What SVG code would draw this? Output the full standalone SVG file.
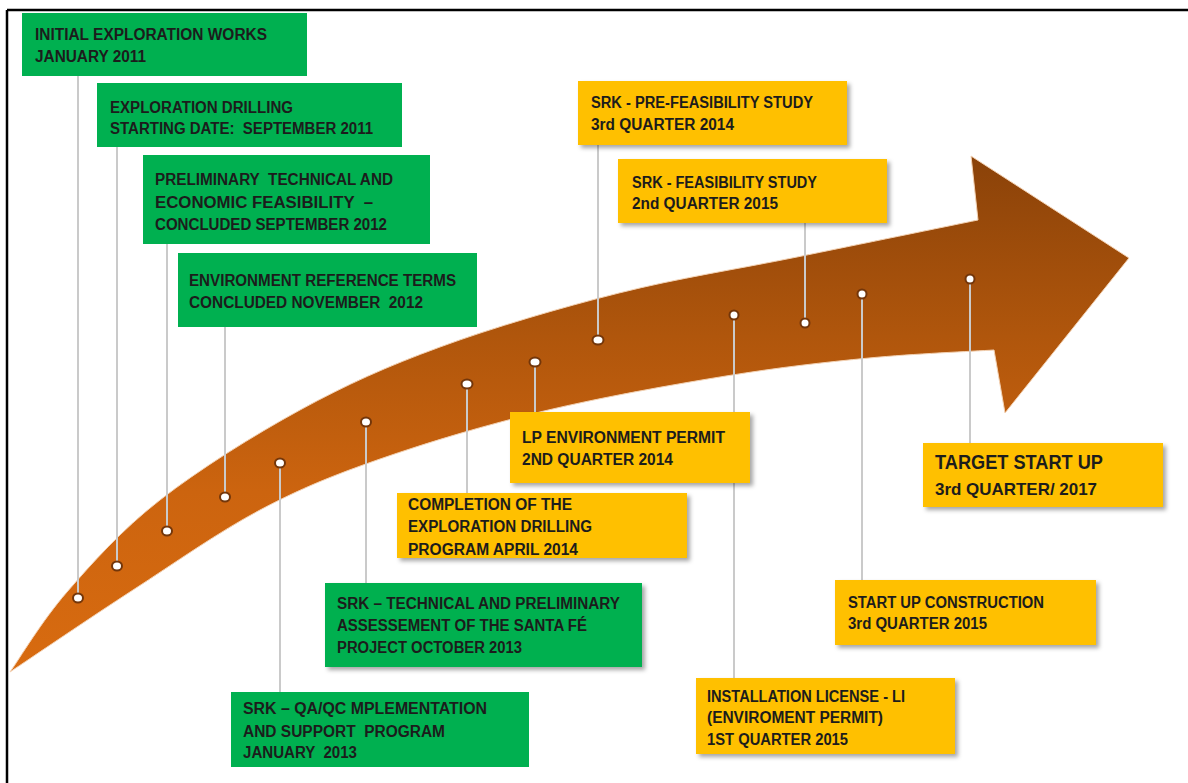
<svg xmlns="http://www.w3.org/2000/svg" width="1188" height="783" viewBox="0 0 1188 783">
<defs>
<linearGradient id="arrowGrad" gradientUnits="userSpaceOnUse" x1="0" y1="156" x2="0" y2="672">
<stop offset="0" stop-color="#8a4209"/>
<stop offset="0.35" stop-color="#b0560c"/>
<stop offset="0.65" stop-color="#cc640f"/>
<stop offset="1" stop-color="#d86b10"/>
</linearGradient>
<filter id="shadow" x="-5%" y="-10%" width="115%" height="130%">
<feDropShadow dx="3" dy="3" stdDeviation="2" flood-color="#000" flood-opacity="0.35"/>
</filter>
</defs>
<style>
.g{fill:#00b050}
.y{fill:#ffc000;filter:url(#shadow)}
.gs{filter:url(#shadow)}
text{font-family:"Liberation Sans",Arial,sans-serif;font-weight:bold;font-size:16px;fill:#1c1c1c;white-space:pre}
.big{font-size:20px}
.mid{font-size:17px}
.conn line{stroke:#cacaca;stroke-width:2}
.conn ellipse{fill:#fff;stroke:#73360a;stroke-width:2}
.frame{stroke:#000;stroke-width:2.5}
</style>
<rect width="1188" height="783" fill="#fff"/>
<line class="frame" x1="7" y1="10" x2="1188" y2="10"/>
<line class="frame" x1="7" y1="10" x2="7" y2="783"/>

<g id="timeline-arrow">
<path fill="url(#arrowGrad)" stroke="#f3d2b4" stroke-width="1" d="M 10,672 C 19.5,658.7 42,620.7 67,592 C 92,563.3 121.2,530.3 160,500 C 198.8,469.7 253.3,435.5 300,410 C 346.7,384.5 386.8,366.5 440,347 C 493.2,327.5 559.5,308 619,293 C 678.5,278 737.2,269.2 797,257 C 856.8,244.8 947.8,226.2 978,220 L 971,156 L 1129,258 L 1005,413 L 994,350 C 973.2,351.3 913.7,353.7 869,358 C 824.3,362.3 780.2,367.2 726,376 C 671.8,384.8 601.7,397.2 544,411 C 486.3,424.8 427.3,442.5 380,459 C 332.7,475.5 301.2,488.2 260,510 C 218.8,531.8 174.7,563 133,590 C 91.3,617 30.5,658.3 10,672 Z"/>
</g>

<g id="connectors" class="conn">
<line x1="78" y1="76" x2="78" y2="598"/>
<line x1="117" y1="147" x2="117" y2="566"/>
<line x1="167" y1="244" x2="167" y2="531"/>
<line x1="225" y1="327" x2="225" y2="497"/>
<line x1="280" y1="463" x2="280" y2="692"/>
<line x1="366" y1="422" x2="366" y2="583"/>
<line x1="467" y1="384" x2="467" y2="493"/>
<line x1="535" y1="362" x2="535" y2="412"/>
<line x1="598" y1="145" x2="598" y2="340"/>
<line x1="734" y1="315" x2="734" y2="678"/>
<line x1="805" y1="223" x2="805" y2="323"/>
<line x1="862" y1="294" x2="862" y2="580"/>
<line x1="970" y1="279" x2="970" y2="443"/>
<ellipse cx="78" cy="598" rx="5" ry="4.5"/>
<ellipse cx="117" cy="566" rx="5" ry="4.5"/>
<ellipse cx="167" cy="531" rx="5" ry="4.5"/>
<ellipse cx="225" cy="497" rx="5" ry="4.5"/>
<ellipse cx="280" cy="463" rx="5" ry="4.5"/>
<ellipse cx="366" cy="422" rx="5" ry="4.5"/>
<ellipse cx="467" cy="384" rx="5.5" ry="4.5"/>
<ellipse cx="535" cy="362" rx="5.5" ry="4.5"/>
<ellipse cx="598" cy="340" rx="5.5" ry="4.5"/>
<ellipse cx="734" cy="315" rx="4.5" ry="4.5"/>
<ellipse cx="805" cy="323" rx="4.5" ry="4.5"/>
<ellipse cx="862" cy="294" rx="4.5" ry="4.5"/>
<ellipse cx="970" cy="279" rx="4.5" ry="4.5"/>
</g>

<g id="node-initial-exploration">
<rect class="g" x="22" y="13" width="285" height="63"/>
<text x="35" y="40" textLength="232" lengthAdjust="spacingAndGlyphs">INITIAL EXPLORATION WORKS</text>
<text x="35" y="62" textLength="111" lengthAdjust="spacingAndGlyphs">JANUARY 2011</text>
</g>

<g id="node-exploration-drilling">
<rect class="g" x="97" y="83" width="305" height="64"/>
<text x="110" y="113" textLength="183" lengthAdjust="spacingAndGlyphs">EXPLORATION DRILLING</text>
<text x="110" y="134" textLength="263" lengthAdjust="spacingAndGlyphs">STARTING DATE:  SEPTEMBER 2011</text>
</g>

<g id="node-preliminary-feasibility">
<rect class="g" x="143" y="155" width="287" height="89"/>
<text x="155" y="185" textLength="238" lengthAdjust="spacingAndGlyphs">PRELIMINARY  TECHNICAL AND</text>
<text x="155" y="208" textLength="218" lengthAdjust="spacingAndGlyphs">ECONOMIC FEASIBILITY  –</text>
<text x="155" y="230" textLength="232" lengthAdjust="spacingAndGlyphs">CONCLUDED SEPTEMBER 2012</text>
</g>

<g id="node-environment-terms">
<rect class="g" x="178" y="253" width="299" height="74"/>
<text x="189" y="286" textLength="267" lengthAdjust="spacingAndGlyphs">ENVIRONMENT REFERENCE TERMS</text>
<text x="189" y="308" textLength="234" lengthAdjust="spacingAndGlyphs">CONCLUDED NOVEMBER  2012</text>
</g>

<g id="node-srk-technical">
<rect class="g gs" x="325" y="583" width="317" height="84"/>
<text x="337" y="609" textLength="283" lengthAdjust="spacingAndGlyphs">SRK – TECHNICAL AND PRELIMINARY</text>
<text x="337" y="631" textLength="250" lengthAdjust="spacingAndGlyphs">ASSESSEMENT OF THE SANTA FÉ</text>
<text x="337" y="653" textLength="185" lengthAdjust="spacingAndGlyphs">PROJECT OCTOBER 2013</text>
</g>

<g id="node-srk-qaqc">
<rect class="g" x="231" y="692" width="298" height="75"/>
<text x="243" y="714" textLength="244" lengthAdjust="spacingAndGlyphs">SRK – QA/QC MPLEMENTATION</text>
<text x="243" y="737" textLength="202" lengthAdjust="spacingAndGlyphs">AND SUPPORT  PROGRAM</text>
<text x="243" y="758" textLength="114" lengthAdjust="spacingAndGlyphs">JANUARY  2013</text>
</g>

<g id="node-pre-feasibility">
<rect class="y" x="578" y="81" width="269" height="64"/>
<text x="591" y="108" textLength="222" lengthAdjust="spacingAndGlyphs">SRK - PRE-FEASIBILITY STUDY</text>
<text x="591" y="130" textLength="143" lengthAdjust="spacingAndGlyphs">3rd QUARTER 2014</text>
</g>

<g id="node-feasibility">
<rect class="y" x="618" y="159" width="269" height="64"/>
<text x="632" y="188" textLength="185" lengthAdjust="spacingAndGlyphs">SRK - FEASIBILITY STUDY</text>
<text x="632" y="209" textLength="146" lengthAdjust="spacingAndGlyphs">2nd QUARTER 2015</text>
</g>

<g id="node-lp-permit">
<rect class="y" x="510" y="412" width="240" height="71"/>
<text x="522" y="443" textLength="203" lengthAdjust="spacingAndGlyphs">LP ENVIRONMENT PERMIT</text>
<text x="522" y="465" textLength="151" lengthAdjust="spacingAndGlyphs">2ND QUARTER 2014</text>
</g>

<g id="node-completion-drilling">
<rect class="y" x="397" y="493" width="290" height="65"/>
<text x="408" y="510" textLength="164" lengthAdjust="spacingAndGlyphs">COMPLETION OF THE</text>
<text x="408" y="532" textLength="184" lengthAdjust="spacingAndGlyphs">EXPLORATION DRILLING</text>
<text x="408" y="555" textLength="170" lengthAdjust="spacingAndGlyphs">PROGRAM APRIL 2014</text>
</g>

<g id="node-target-start-up">
<rect class="y" x="923" y="443" width="240" height="64"/>
<text class="big" x="935" y="469" textLength="168" lengthAdjust="spacingAndGlyphs">TARGET START UP</text>
<text class="mid" x="935" y="495" textLength="162" lengthAdjust="spacingAndGlyphs">3rd QUARTER/ 2017</text>
</g>

<g id="node-start-up-construction">
<rect class="y" x="835" y="580" width="261" height="65"/>
<text x="848" y="608" textLength="196" lengthAdjust="spacingAndGlyphs">START UP CONSTRUCTION</text>
<text x="848" y="629" textLength="139" lengthAdjust="spacingAndGlyphs">3rd QUARTER 2015</text>
</g>

<g id="node-installation-license">
<rect class="y" x="696" y="678" width="259" height="76"/>
<text x="707" y="702" textLength="198" lengthAdjust="spacingAndGlyphs">INSTALLATION LICENSE - LI</text>
<text x="707" y="723" textLength="176" lengthAdjust="spacingAndGlyphs">(ENVIROMENT PERMIT)</text>
<text x="707" y="745" textLength="141" lengthAdjust="spacingAndGlyphs">1ST QUARTER 2015</text>
</g>
</svg>
